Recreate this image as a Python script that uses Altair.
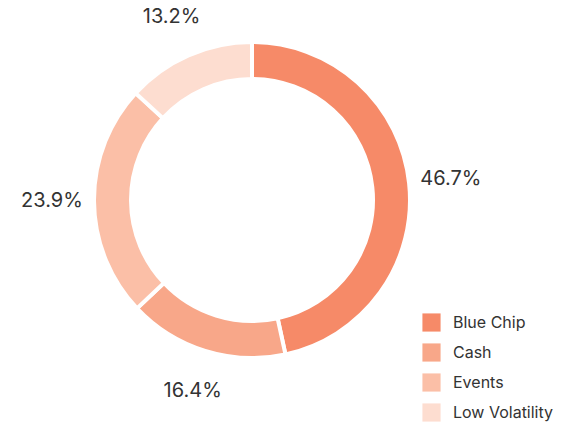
import altair as alt
import pandas as pd

categories = ["Blue Chip", "Cash", "Events", "Low Volatility"]
values = [46.7, 16.4, 23.9, 13.2]
labels = ["46.7%", "16.4%", "23.9%", "13.2%"]
colors = ["#F68A68", "#F8A789", "#FBBFA7", "#FDDDD0"]

df = pd.DataFrame({
    "category": categories,
    "value": values,
    "label": labels,
    "idx": list(range(len(categories))),
})

base = alt.Chart(df).encode(
    theta=alt.Theta("value:Q", stack=True),
    order=alt.Order("idx:Q", sort="ascending"),
)

arc = base.mark_arc(outerRadius=158, innerRadius=121, stroke="white", strokeWidth=4).encode(
    color=alt.Color(
        "category:N",
        scale=alt.Scale(domain=categories, range=colors),
        legend=alt.Legend(
            title=None,
            orient="none",
            legendX=422,
            legendY=313,
            symbolType="square",
            symbolSize=330,
            symbolStrokeWidth=0,
            labelFontSize=16,
            labelFont="Inter",
            labelColor="#333333",
            rowPadding=11,
            labelOffset=12,
            labelLimit=200,
        ),
    )
)

text = base.mark_text(radius=200, fontSize=20, font="Inter", color="#333333").encode(
    text="label:N"
)

chart = (
    (arc + text)
    .properties(
        width=504,
        height=400,
        padding={"left": 0, "top": 0, "right": 67, "bottom": 22},
        autosize=alt.AutoSizeParams(type="none"),
    )
    .configure_view(stroke=None)
)

chart.save("out.html", embed_options={"renderer": "svg", "actions": False})
